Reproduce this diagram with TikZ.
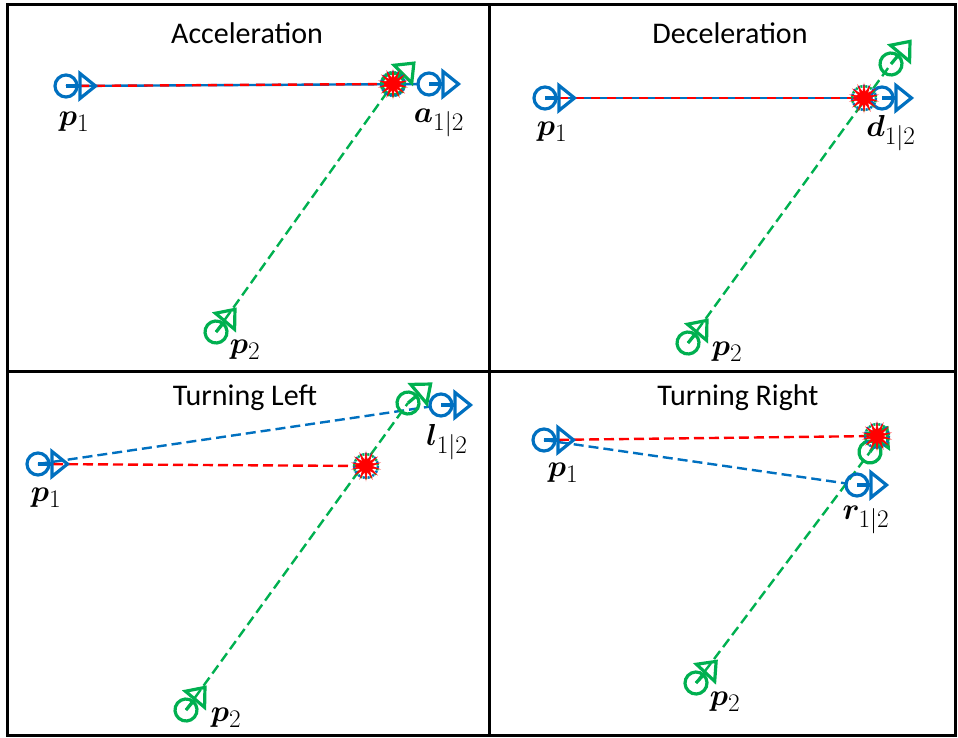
\documentclass[tikz,border=0pt]{standalone}
\usepackage{bm}
\usepackage{fontspec}
\newfontfamily\titlefont{Carlito}
\usetikzlibrary{shapes.geometric}

\definecolor{vblue}{RGB}{0,112,192}
\definecolor{vgreen}{RGB}{0,176,80}
\definecolor{vred}{RGB}{255,0,0}

% vehicle glyph: circle plus heading arrow
\newcommand{\vehicle}[3]{%
  \begin{scope}[shift={(#2)}, rotate=#3, glyph, #1]
    \draw (0,0) circle (11);
    \draw (0,0) -- (14,0);
    \draw (14,-12.5) -- (29.5,0) -- (14,12.5) -- cycle;
  \end{scope}
}

\begin{document}
\begin{tikzpicture}[
    x=1pt, y=-1pt,
    glyph/.style={line width=3.2pt, line join=miter},
    track/.style={line width=2.4pt, dash pattern=on 10pt off 5pt},
    solidtrack/.style={line width=2.4pt},
    overtrack/.style={line width=2.4pt, dash pattern=on 9pt off 7pt},
    burst/.style={star, star points=14, star point ratio=2.4, minimum size=27pt,
                  inner sep=0pt, fill=vred, draw=vred, line width=0.6pt},
    title/.style={font=\titlefont\fontsize{30}{35}\selectfont},
    lbl/.style={font=\Huge, scale=1.22}
]
\useasboundingbox (0,0) rectangle (958,738);

% ── Frame ─────────────────────────────────────────────────
\draw[line width=3pt] (7,5) rectangle (955,735);
\draw[line width=3pt] (489,5) -- (489,735);
\draw[line width=3pt] (7,371) -- (955,371);

% ── Titles ────────────────────────────────────────────────
\node[title] (t1) at (247,33)  {Acceleration};
\node[title] (t2) at (730,33)  {Deceleration};
\node[title] (t3) at (245,398) {Turning Left};
\node[title] (t4) at (738,398) {Turning Right};

% ── Positions ─────────────────────────────────────────────
\coordinate (A-p1) at (66,86);   \coordinate (A-p2) at (216,332);
\coordinate (A-x)  at (393,84);  \coordinate (A-a)  at (429,84);
\coordinate (A-g)  at (393,84);

\coordinate (B-p1) at (545,98);  \coordinate (B-p2) at (688,343);
\coordinate (B-x)  at (864,98);  \coordinate (B-d)  at (882,98);
\coordinate (B-g)  at (891,64);

\coordinate (C-p1) at (38,464);  \coordinate (C-p2) at (186,710);
\coordinate (C-x)  at (366,466); \coordinate (C-l)  at (441,405);
\coordinate (C-g)  at (408,403);

\coordinate (D-p1) at (544,440); \coordinate (D-p2) at (696,683);
\coordinate (D-x)  at (877,436); \coordinate (D-r)  at (857,485);
\coordinate (D-g)  at (870,452);

% ── Tracks ────────────────────────────────────────────────
\draw[solidtrack, vblue, shorten >=11pt] (A-p1) -- (A-a);
\draw[overtrack, vred, dash phase=2pt] (A-p1) -- (A-x);
\draw[track, vgreen] (A-p2) -- (A-g);

\draw[solidtrack, vblue, shorten >=11pt] (B-p1) -- (B-d);
\draw[overtrack, vred, dash phase=2pt] (B-p1) -- (B-x);
\draw[track, vgreen] (B-p2) -- (B-g);

\draw[track, vblue, shorten >=11pt] (C-p1) -- (C-l);
\draw[track, vred] (C-p1) -- (C-x);
\draw[track, vgreen] (C-p2) -- (C-g);

\draw[track, vblue, shorten >=11pt] (D-p1) -- (D-r);
\draw[track, vred] (D-p1) -- (D-x);
\draw[track, vgreen] (D-p2) -- (D-g);

% ── Vehicles ──────────────────────────────────────────────
\vehicle{vblue}{A-p1}{0}   \vehicle{vblue}{A-a}{0}
\vehicle{vgreen}{A-p2}{50} \vehicle{vgreen}{A-g}{45}

\vehicle{vblue}{B-p1}{0}   \vehicle{vblue}{B-d}{0}
\vehicle{vgreen}{B-p2}{50} \vehicle{vgreen}{B-g}{50}

\vehicle{vblue}{C-p1}{0}   \vehicle{vblue}{C-l}{0}
\vehicle{vgreen}{C-p2}{50} \vehicle{vgreen}{C-g}{40}

\vehicle{vblue}{D-p1}{0}   \vehicle{vblue}{D-r}{0}
\vehicle{vgreen}{D-p2}{47} \vehicle{vgreen}{D-g}{55}

% ── Predicted meeting points ──────────────────────────────
\foreach \n in {A-x, B-x, C-x, D-x} {
    \draw[vblue, line width=2.5pt, dash pattern=on 2pt off 3pt] (\n) circle (12);
    \draw[vgreen, line width=2.5pt, dash pattern=on 2pt off 3pt, dash phase=2.5pt] (\n) circle (12);
    \node[burst] at (\n) {};
}

% ── Labels ────────────────────────────────────────────────
\node[lbl] (A-p1l) at (74,122)  {$\bm{p}_1$};
\node[lbl] (A-al)  at (439,123) {$\bm{a}_{1|2}$};
\node[lbl] (A-p2l) at (245,350) {$\bm{p}_2$};

\node[lbl] (B-p1l) at (552,132) {$\bm{p}_1$};
\node[lbl] (B-dl)  at (891,133) {$\bm{d}_{1|2}$};
\node[lbl] (B-p2l) at (727,352) {$\bm{p}_2$};

\node[lbl] (C-p1l) at (46,498)  {$\bm{p}_1$};
\node[lbl] (C-ll)  at (447,442) {$\bm{l}_{1|2}$};
\node[lbl] (C-p2l) at (226,718) {$\bm{p}_2$};

\node[lbl] (D-p1l) at (563,473) {$\bm{p}_1$};
\node[lbl] (D-rl)  at (866,520) {$\bm{r}_{1|2}$};
\node[lbl] (D-p2l) at (725,702) {$\bm{p}_2$};

\end{tikzpicture}
\end{document}
